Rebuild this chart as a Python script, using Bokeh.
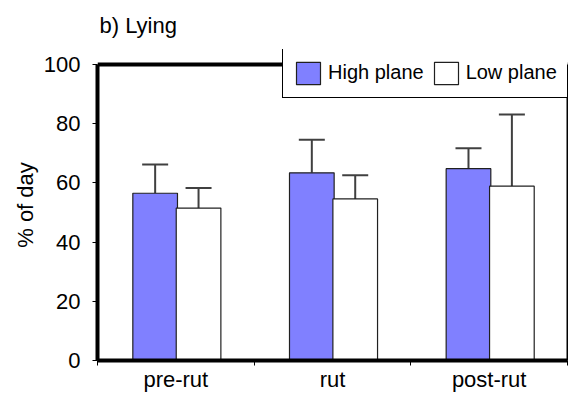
import numpy as np
from bokeh.plotting import figure
from bokeh.models import (ColumnDataSource, Range1d, FixedTicker, LinearAxis,
                          Whisker, TeeHead, Legend, LegendItem, Span)
from bokeh.embed import file_html
from bokeh.resources import INLINE

# Time spent lying (% of day) by season, for two feeding planes
seasons = ["pre-rut", "rut", "post-rut"]
high_mean = [56.5, 63.4, 64.8]
high_sd = [9.7, 11.2, 6.9]
low_mean = [51.5, 54.6, 58.9]
low_sd = [6.8, 8.0, 24.2]
y_ticks = [0, 20, 40, 60, 80, 100]

FONT = "Liberation Sans"
BAR_W = 0.285
Y_MAX = 100
centers = np.arange(len(seasons)) + 0.5

high_src = ColumnDataSource(dict(
    x=centers - 0.132, top=high_mean,
    upper=np.array(high_mean) + np.array(high_sd)))
low_src = ColumnDataSource(dict(
    x=centers + 0.145, top=low_mean,
    upper=np.array(low_mean) + np.array(low_sd)))

# the frame reaches a little above 100 so the legend can sit over the top edge
p = figure(width=568, height=395, output_backend="svg", toolbar_location=None,
           x_range=Range1d(0, len(seasons)), y_range=Range1d(0, 105.07),
           min_border_left=97, min_border_right=1, min_border_top=49,
           min_border_bottom=35)
p.outline_line_color = None
p.grid.visible = False
p.background_fill_color = "white"
p.border_fill_color = "white"

p.title.text = "b) Lying"
p.title.text_font = FONT
p.title.text_font_size = "22px"
p.title.text_font_style = "normal"
p.title.text_color = "black"
p.title.align = "left"
p.title.vertical_align = "top"
p.title.offset = 2
p.title.standoff = 20

r_high = p.vbar(x="x", top="top", width=BAR_W, bottom=0, source=high_src,
                fill_color="#8080FF", line_color="#202020", line_width=1.2)
r_low = p.vbar(x="x", top="top", width=BAR_W, bottom=0, source=low_src,
               fill_color="white", line_color="#202020", line_width=1.2)

for src in (high_src, low_src):
    p.add_layout(Whisker(source=src, base="x", lower="top", upper="upper",
                         line_color="#404040", line_width=2,
                         upper_head=TeeHead(size=26, line_color="#404040",
                                            line_width=2),
                         lower_head=None))

# y axis
ya = p.yaxis[0]
ya.ticker = FixedTicker(ticks=y_ticks)
ya.bounds = (0, Y_MAX)
ya.axis_line_width = 4
ya.axis_line_color = "black"
ya.major_tick_out = 5
ya.major_tick_in = 0
ya.minor_tick_out = 0
ya.minor_tick_in = 0
ya.major_label_text_font = FONT
ya.major_label_text_font_size = "22px"
ya.major_label_text_color = "black"
ya.major_label_standoff = 12
ya.axis_label = "% of day"
ya.axis_label_text_font = FONT
ya.axis_label_text_font_size = "22px"
ya.axis_label_text_font_style = "normal"
ya.axis_label_text_color = "black"
ya.axis_label_standoff = 3

# x axis: labels at category centres, ticks at category boundaries
xa = p.xaxis[0]
xa.ticker = FixedTicker(ticks=list(centers),
                        minor_ticks=list(range(len(seasons) + 1)))
xa.major_label_overrides = {float(c): s for c, s in zip(centers, seasons)}
xa.axis_line_width = 4
xa.axis_line_color = "black"
xa.major_tick_out = 0
xa.major_tick_in = 0
xa.minor_tick_out = 5
xa.minor_tick_in = 0
xa.minor_tick_line_color = "black"
xa.major_label_text_font = FONT
xa.major_label_text_font_size = "22px"
xa.major_label_text_color = "black"
xa.major_label_standoff = 1

# light right border, heavy top border at 100
right_ax = LinearAxis(ticker=FixedTicker(ticks=[]), bounds=(0, Y_MAX),
                      axis_line_width=2, axis_line_color="black",
                      major_tick_out=0, minor_tick_out=0,
                      major_tick_in=0, minor_tick_in=0)
p.add_layout(right_ax, "right")
p.add_layout(Span(location=Y_MAX, dimension="width", line_color="black",
                  line_width=4))

legend = Legend(items=[LegendItem(label="High plane", renderers=[r_high]),
                       LegendItem(label="Low plane", renderers=[r_low])],
                orientation="horizontal", location=(185, 262),
                glyph_width=30, glyph_height=28, label_height=29,
                label_standoff=5, spacing=7, padding=10, margin=0,
                label_text_font=FONT, label_text_font_size="20px",
                label_text_color="black",
                border_line_color="black", border_line_width=1.2,
                border_line_alpha=1,
                background_fill_color="white", background_fill_alpha=1)
p.add_layout(legend)

open("out.html", "w").write(file_html(p, INLINE))
